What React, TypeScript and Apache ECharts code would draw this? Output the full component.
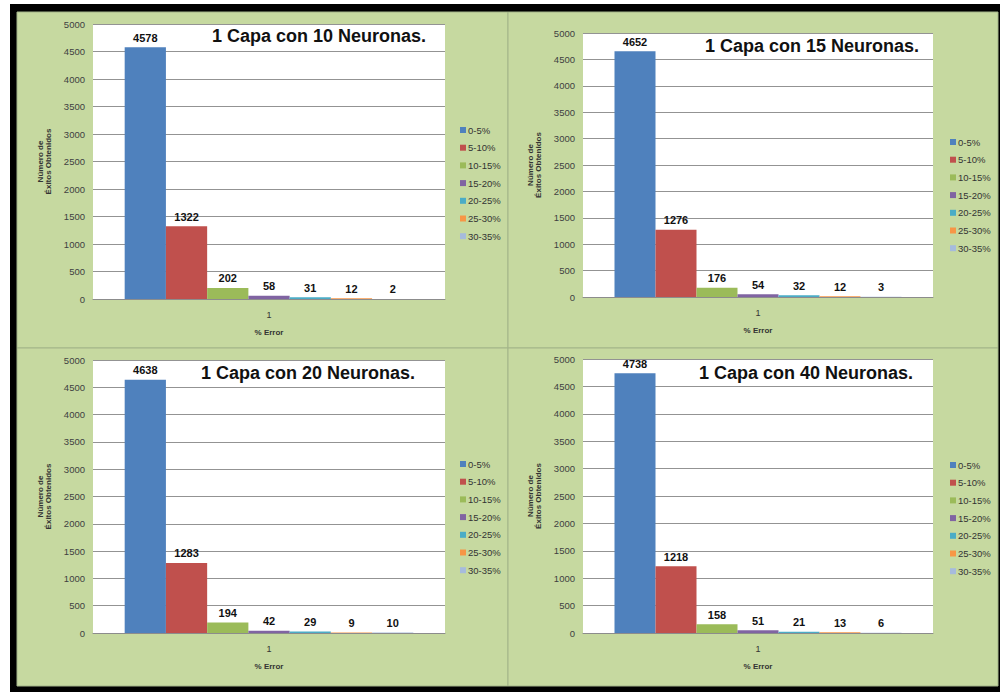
import React, { useEffect, useRef } from "react";
import * as echarts from "echarts";

const categories = ["1"];
const seriesNames = ["0-5%", "5-10%", "10-15%", "15-20%", "20-25%", "25-30%", "30-35%"];
const values10 = [4578, 1322, 202, 58, 31, 12, 2];
const values15 = [4652, 1276, 176, 54, 32, 12, 3];
const values20 = [4638, 1283, 194, 42, 29, 9, 10];
const values40 = [4738, 1218, 158, 51, 21, 13, 6];
const panelValues = [values10, values15, values20, values40];
const panelTitles = [
  "1 Capa con 10 Neuronas.",
  "1 Capa con 15 Neuronas.",
  "1 Capa con 20 Neuronas.",
  "1 Capa con 40 Neuronas.",
];
const yAxisName = "Número de\nÉxitos Obtenidos";
const xAxisName = "% Error";
const yMin = 0;
const yMax = 5000;
const yInterval = 500;

const barColors = ["#4f81bd", "#c0504d", "#9bbb59", "#8064a2", "#4bacc6", "#f79646", "#a6bbdc"];

const grids = [
  { left: 93, top: 24, width: 352, height: 275 },
  { left: 583, top: 33, width: 350, height: 264 },
  { left: 93, top: 360, width: 352, height: 273 },
  { left: 583, top: 359, width: 350, height: 274 },
];
const titlePos = [
  { left: 212, top: 27 },
  { left: 705, top: 37 },
  { left: 201, top: 364 },
  { left: 699, top: 364 },
];
const legendPos = [
  { left: 460, top: 125 },
  { left: 950, top: 137 },
  { left: 460, top: 459 },
  { left: 950, top: 460 },
];
const panels = [
  { x: 17, y: 12, width: 491, height: 336 },
  { x: 508, y: 12, width: 490, height: 336 },
  { x: 17, y: 348, width: 491, height: 338 },
  { x: 508, y: 348, width: 490, height: 338 },
];

const labelFont = "'Liberation Sans', Arial, sans-serif";

export default function App() {
  const ref = useRef<HTMLDivElement>(null);
  useEffect(() => {
    if (!ref.current) return;
    const chart = echarts.init(ref.current, null, { renderer: "svg" });
    const series: any[] = [];
    panelValues.forEach((vals, p) => {
      vals.forEach((v, i) => {
        series.push({
          type: "bar",
          name: seriesNames[i],
          xAxisIndex: p,
          yAxisIndex: p,
          data: [v],
          barGap: "0%",
          barCategoryGap: "18%",
          itemStyle: { color: barColors[i] },
          label: {
            show: true,
            position: "top",
            distance: 4,
            fontSize: 11,
            fontWeight: "bold",
            fontFamily: labelFont,
            color: "#111",
          },
        });
      });
    });
    const option: any = {
      animation: false,
      backgroundColor: "#ffffff",
      graphic: [
        {
          type: "rect",
          silent: true,
          z: -10,
          shape: { x: 10, y: 4, width: 990, height: 688 },
          style: { fill: "#000000" },
        },
        ...panels.map((r) => ({
          type: "rect",
          silent: true,
          z: -9,
          shape: r,
          style: { fill: "#c6d9a0", stroke: "#a3b489", lineWidth: 1 },
        })),
      ],
      title: panelTitles.map((t, p) => ({
        text: t,
        left: titlePos[p].left,
        top: titlePos[p].top,
        padding: 0,
        z: 10,
        textStyle: {
          fontSize: 18,
          fontWeight: "bold",
          fontFamily: labelFont,
          color: "#111",
        },
      })),
      legend: legendPos.map((lp) => ({
        data: seriesNames,
        orient: "vertical",
        left: lp.left,
        top: lp.top,
        padding: 0,
        icon: "rect",
        itemWidth: 6,
        itemHeight: 6,
        itemGap: 7.7,
        textStyle: {
          fontSize: 9.5,
          lineHeight: 10,
          color: "#333",
          fontFamily: labelFont,
          padding: [0, 0, 0, -3],
        },
      })),
      grid: grids.map((g) => ({
        ...g,
        show: true,
        backgroundColor: "#ffffff",
        borderWidth: 0,
      })),
      xAxis: grids.map((_, p) => ({
        type: "category",
        gridIndex: p,
        data: categories,
        name: xAxisName,
        nameLocation: "middle",
        nameGap: 29,
        nameTextStyle: {
          fontSize: 8,
          fontWeight: "bold",
          color: "#333",
          fontFamily: labelFont,
        },
        axisLine: { show: true, lineStyle: { color: "#8c8c8c", width: 1 } },
        axisTick: { show: false },
        axisLabel: {
          fontSize: 9,
          margin: 11,
          color: "#333",
          fontFamily: labelFont,
        },
      })),
      yAxis: grids.map((_, p) => ({
        type: "value",
        gridIndex: p,
        min: yMin,
        max: yMax,
        interval: yInterval,
        name: yAxisName,
        nameLocation: "middle",
        nameGap: 40,
        nameTextStyle: {
          fontSize: 8,
          lineHeight: 8.5,
          fontWeight: "bold",
          color: "#333",
          fontFamily: labelFont,
        },
        axisLine: { show: false },
        axisTick: { show: false },
        axisLabel: {
          fontSize: 9.5,
          margin: 8,
          color: "#404040",
          fontFamily: labelFont,
          formatter: (v: number) => String(v),
        },
        splitLine: { show: true, lineStyle: { color: "#939393", width: 1 } },
      })),
      series,
    };
    chart.setOption(option);
    return () => chart.dispose();
  }, []);
  return (
    <div
      ref={ref}
      style={{ position: "absolute", left: 0, top: 0, width: 1000, height: 692 }}
    />
  );
}
